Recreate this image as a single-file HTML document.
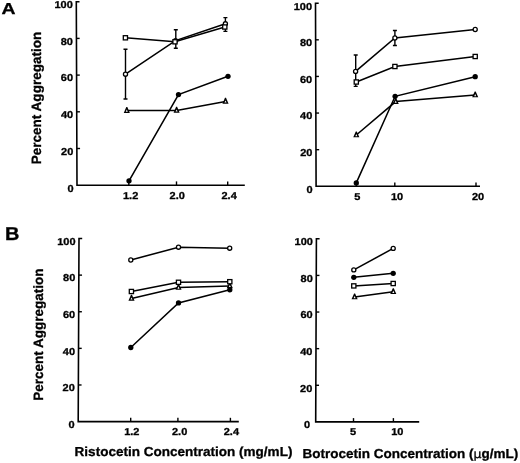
<!DOCTYPE html>
<html><head><meta charset="utf-8"><title>Figure</title>
<style>
html,body{margin:0;padding:0;background:#fff;}
svg{display:block;}
svg text{font-family:"Liberation Sans",sans-serif;font-weight:bold;fill:#000;stroke:#000;stroke-width:0.3px;text-rendering:geometricPrecision;}
</style></head><body>
<svg width="520" height="463" viewBox="0 0 520 463">
<rect width="520" height="463" fill="#fff"/>
<path d="M79.5 1.7H76.3L77 185.2H244.8" fill="none" stroke="#000" stroke-width="1.6" stroke-linejoin="miter"/>
<text transform="translate(73.5,191.5) scale(1.1,1)" font-size="10" text-anchor="end">0</text>
<path d="M76.86 148.5h3.2" stroke="#000" stroke-width="1.4"/>
<text transform="translate(73.36,154.8) scale(1.1,1)" font-size="10" text-anchor="end">20</text>
<path d="M76.72 111.8h3.2" stroke="#000" stroke-width="1.4"/>
<text transform="translate(73.22,118.1) scale(1.1,1)" font-size="10" text-anchor="end">40</text>
<path d="M76.58 75.1h3.2" stroke="#000" stroke-width="1.4"/>
<text transform="translate(73.08,81.4) scale(1.1,1)" font-size="10" text-anchor="end">60</text>
<path d="M76.44 38.4h3.2" stroke="#000" stroke-width="1.4"/>
<text transform="translate(72.94,44.7) scale(1.1,1)" font-size="10" text-anchor="end">80</text>
<text transform="translate(72.8,8) scale(1.1,1)" font-size="10" text-anchor="end">100</text>
<path d="M128.8 185.2v-3.8" stroke="#000" stroke-width="1.4"/>
<text transform="translate(130.6,199) scale(1.1,1)" font-size="10" text-anchor="middle">1.2</text>
<path d="M176.5 185.2v-3.8" stroke="#000" stroke-width="1.4"/>
<text transform="translate(177.2,199) scale(1.1,1)" font-size="10" text-anchor="middle">2.0</text>
<path d="M227.7 185.2v-3.8" stroke="#000" stroke-width="1.4"/>
<text transform="translate(229.1,199) scale(1.1,1)" font-size="10" text-anchor="middle">2.4</text>
<path d="M125.5 49.3V99M123.5 49.3h4.0M123.5 99h4.0" fill="none" stroke="#000" stroke-width="1.4"/>
<path d="M175.8 29.8V48.2M173.8 29.8h4.0M173.8 48.2h4.0" fill="none" stroke="#000" stroke-width="1.4"/>
<path d="M225.4 17.6V31.4M223.4 17.6h4.0M223.4 31.4h4.0" fill="none" stroke="#000" stroke-width="1.4"/>
<polyline points="125.4,37.8 175,41.8 224.8,27" fill="none" stroke="#000" stroke-width="1.55"/>
<polyline points="125.5,74.2 175.5,40.6 225.4,23.8" fill="none" stroke="#000" stroke-width="1.55"/>
<polyline points="126.8,110.6 176.6,110.4 225.5,101.4" fill="none" stroke="#000" stroke-width="1.55"/>
<polyline points="129,180.8 178.5,94.6 228,76.3" fill="none" stroke="#000" stroke-width="1.55"/>
<polygon points="126.3,107 127.3,107 129.85,112.9 123.75,112.9" fill="#000"/>
<polygon points="126.8,109.6 125.8,111.75 127.8,111.75" fill="#fff"/>
<polygon points="176.1,106.8 177.1,106.8 179.65,112.7 173.55,112.7" fill="#000"/>
<polygon points="176.6,109.4 175.6,111.55 177.6,111.55" fill="#fff"/>
<polygon points="225,97.8 226,97.8 228.55,103.7 222.45,103.7" fill="#000"/>
<polygon points="225.5,100.4 224.5,102.55 226.5,102.55" fill="#fff"/>
<circle cx="129" cy="180.8" r="2.65" fill="#000"/>
<circle cx="178.5" cy="94.6" r="2.65" fill="#000"/>
<circle cx="228" cy="76.3" r="2.65" fill="#000"/>
<circle cx="125.5" cy="74.2" r="2.05" fill="#fff" stroke="#000" stroke-width="1.3"/>
<circle cx="175.5" cy="40.6" r="2.05" fill="#fff" stroke="#000" stroke-width="1.3"/>
<circle cx="225.4" cy="23.8" r="2.05" fill="#fff" stroke="#000" stroke-width="1.3"/>
<rect x="123.3" y="35.7" width="4.2" height="4.2" fill="#fff" stroke="#000" stroke-width="1.3"/>
<rect x="172.9" y="39.7" width="4.2" height="4.2" fill="#fff" stroke="#000" stroke-width="1.3"/>
<rect x="222.7" y="24.9" width="4.2" height="4.2" fill="#fff" stroke="#000" stroke-width="1.3"/>
<path d="M318.7 3.2H315.5L316.1 186.3H480" fill="none" stroke="#000" stroke-width="1.6" stroke-linejoin="miter"/>
<text transform="translate(312.6,192.6) scale(1.1,1)" font-size="10" text-anchor="end">0</text>
<path d="M315.98 149.68h3.2" stroke="#000" stroke-width="1.4"/>
<text transform="translate(312.48,155.98) scale(1.1,1)" font-size="10" text-anchor="end">20</text>
<path d="M315.86 113.06h3.2" stroke="#000" stroke-width="1.4"/>
<text transform="translate(312.36,119.36) scale(1.1,1)" font-size="10" text-anchor="end">40</text>
<path d="M315.74 76.44h3.2" stroke="#000" stroke-width="1.4"/>
<text transform="translate(312.24,82.74) scale(1.1,1)" font-size="10" text-anchor="end">60</text>
<path d="M315.62 39.82h3.2" stroke="#000" stroke-width="1.4"/>
<text transform="translate(312.12,46.12) scale(1.1,1)" font-size="10" text-anchor="end">80</text>
<text transform="translate(312,9.5) scale(1.1,1)" font-size="10" text-anchor="end">100</text>
<path d="M356.3 186.3v-3.8" stroke="#000" stroke-width="1.4"/>
<text transform="translate(357.2,200.2) scale(1.1,1)" font-size="10" text-anchor="middle">5</text>
<path d="M394.8 186.3v-3.8" stroke="#000" stroke-width="1.4"/>
<text transform="translate(397.1,200.2) scale(1.1,1)" font-size="10" text-anchor="middle">10</text>
<path d="M476 186.3v-3.8" stroke="#000" stroke-width="1.4"/>
<text transform="translate(478,200.2) scale(1.1,1)" font-size="10" text-anchor="middle">20</text>
<path d="M355.7 55V86.4M353.7 55h4.0M353.7 86.4h4.0" fill="none" stroke="#000" stroke-width="1.4"/>
<path d="M394.9 30.5V45.5M392.9 30.5h4.0M392.9 45.5h4.0" fill="none" stroke="#000" stroke-width="1.4"/>
<polyline points="355.6,71.4 394.9,38 475.2,29.5" fill="none" stroke="#000" stroke-width="1.55"/>
<polyline points="356.3,82 394.9,66.5 475.2,56.5" fill="none" stroke="#000" stroke-width="1.55"/>
<polyline points="356.3,182.9 395.1,96.3 475.2,76.7" fill="none" stroke="#000" stroke-width="1.55"/>
<polyline points="356.3,135 395.7,101.6 475.2,95" fill="none" stroke="#000" stroke-width="1.55"/>
<polygon points="355.8,131.4 356.8,131.4 359.35,137.3 353.25,137.3" fill="#000"/>
<polygon points="356.3,134 355.3,136.15 357.3,136.15" fill="#fff"/>
<polygon points="395.2,98 396.2,98 398.75,103.9 392.65,103.9" fill="#000"/>
<polygon points="395.7,100.6 394.7,102.75 396.7,102.75" fill="#fff"/>
<polygon points="474.7,91.4 475.7,91.4 478.25,97.3 472.15,97.3" fill="#000"/>
<polygon points="475.2,94 474.2,96.15 476.2,96.15" fill="#fff"/>
<circle cx="356.3" cy="182.9" r="2.65" fill="#000"/>
<circle cx="395.1" cy="96.3" r="2.65" fill="#000"/>
<circle cx="475.2" cy="76.7" r="2.65" fill="#000"/>
<rect x="354.2" y="79.9" width="4.2" height="4.2" fill="#fff" stroke="#000" stroke-width="1.3"/>
<rect x="392.8" y="64.4" width="4.2" height="4.2" fill="#fff" stroke="#000" stroke-width="1.3"/>
<rect x="473.1" y="54.4" width="4.2" height="4.2" fill="#fff" stroke="#000" stroke-width="1.3"/>
<circle cx="355.6" cy="71.4" r="2.05" fill="#fff" stroke="#000" stroke-width="1.3"/>
<circle cx="394.9" cy="38" r="2.05" fill="#fff" stroke="#000" stroke-width="1.3"/>
<circle cx="475.2" cy="29.5" r="2.05" fill="#fff" stroke="#000" stroke-width="1.3"/>
<path d="M82.2 238.5H79L78.2 421.6H238.8" fill="none" stroke="#000" stroke-width="1.6" stroke-linejoin="miter"/>
<text transform="translate(74.7,427.9) scale(1.1,1)" font-size="10" text-anchor="end">0</text>
<path d="M78.36 384.98h3.2" stroke="#000" stroke-width="1.4"/>
<text transform="translate(74.86,391.28) scale(1.1,1)" font-size="10" text-anchor="end">20</text>
<path d="M78.52 348.36h3.2" stroke="#000" stroke-width="1.4"/>
<text transform="translate(75.02,354.66) scale(1.1,1)" font-size="10" text-anchor="end">40</text>
<path d="M78.68 311.74h3.2" stroke="#000" stroke-width="1.4"/>
<text transform="translate(75.18,318.04) scale(1.1,1)" font-size="10" text-anchor="end">60</text>
<path d="M78.84 275.12h3.2" stroke="#000" stroke-width="1.4"/>
<text transform="translate(75.34,281.42) scale(1.1,1)" font-size="10" text-anchor="end">80</text>
<text transform="translate(75.5,244.8) scale(1.1,1)" font-size="10" text-anchor="end">100</text>
<path d="M130.7 421.6v-3.8" stroke="#000" stroke-width="1.4"/>
<text transform="translate(131.8,435.4) scale(1.1,1)" font-size="10" text-anchor="middle">1.2</text>
<path d="M177.9 421.6v-3.8" stroke="#000" stroke-width="1.4"/>
<text transform="translate(179.6,435.4) scale(1.1,1)" font-size="10" text-anchor="middle">2.0</text>
<path d="M230.4 421.6v-3.8" stroke="#000" stroke-width="1.4"/>
<text transform="translate(231.4,435.4) scale(1.1,1)" font-size="10" text-anchor="middle">2.4</text>
<polyline points="130.8,260 178.5,247.2 229.7,248.2" fill="none" stroke="#000" stroke-width="1.55"/>
<polyline points="131.4,291.5 178.5,282.3 229.8,281.7" fill="none" stroke="#000" stroke-width="1.55"/>
<polyline points="131.5,298.4 178.5,287.5 229.8,285.9" fill="none" stroke="#000" stroke-width="1.55"/>
<polyline points="130.8,347.5 178.5,302.9 229.8,289.8" fill="none" stroke="#000" stroke-width="1.55"/>
<circle cx="130.8" cy="347.5" r="2.65" fill="#000"/>
<circle cx="178.5" cy="302.9" r="2.65" fill="#000"/>
<circle cx="229.8" cy="289.8" r="2.65" fill="#000"/>
<polygon points="131,294.8 132,294.8 134.55,300.7 128.45,300.7" fill="#000"/>
<polygon points="131.5,297.4 130.5,299.55 132.5,299.55" fill="#fff"/>
<polygon points="178,283.9 179,283.9 181.55,289.8 175.45,289.8" fill="#000"/>
<polygon points="178.5,286.5 177.5,288.65 179.5,288.65" fill="#fff"/>
<polygon points="229.3,282.3 230.3,282.3 232.85,288.2 226.75,288.2" fill="#000"/>
<polygon points="229.8,284.9 228.8,287.05 230.8,287.05" fill="#fff"/>
<rect x="129.3" y="289.4" width="4.2" height="4.2" fill="#fff" stroke="#000" stroke-width="1.3"/>
<rect x="176.4" y="280.2" width="4.2" height="4.2" fill="#fff" stroke="#000" stroke-width="1.3"/>
<rect x="227.7" y="279.6" width="4.2" height="4.2" fill="#fff" stroke="#000" stroke-width="1.3"/>
<circle cx="130.8" cy="260" r="2.05" fill="#fff" stroke="#000" stroke-width="1.3"/>
<circle cx="178.5" cy="247.2" r="2.05" fill="#fff" stroke="#000" stroke-width="1.3"/>
<circle cx="229.7" cy="248.2" r="2.05" fill="#fff" stroke="#000" stroke-width="1.3"/>
<path d="M319.6 238.8H316.4L315.7 421.9H419.2" fill="none" stroke="#000" stroke-width="1.6" stroke-linejoin="miter"/>
<text transform="translate(310,428.2) scale(1.1,1)" font-size="10" text-anchor="end">0</text>
<path d="M315.84 385.28h3.2" stroke="#000" stroke-width="1.4"/>
<text transform="translate(312.34,391.58) scale(1.1,1)" font-size="10" text-anchor="end">20</text>
<path d="M315.98 348.66h3.2" stroke="#000" stroke-width="1.4"/>
<text transform="translate(312.48,354.96) scale(1.1,1)" font-size="10" text-anchor="end">40</text>
<path d="M316.12 312.04h3.2" stroke="#000" stroke-width="1.4"/>
<text transform="translate(312.62,318.34) scale(1.1,1)" font-size="10" text-anchor="end">60</text>
<path d="M316.26 275.42h3.2" stroke="#000" stroke-width="1.4"/>
<text transform="translate(312.76,281.72) scale(1.1,1)" font-size="10" text-anchor="end">80</text>
<text transform="translate(312.9,245.1) scale(1.1,1)" font-size="10" text-anchor="end">100</text>
<path d="M353.5 421.9v-3.8" stroke="#000" stroke-width="1.4"/>
<text transform="translate(353.1,434.5) scale(1.1,1)" font-size="10" text-anchor="middle">5</text>
<path d="M393.4 421.9v-3.8" stroke="#000" stroke-width="1.4"/>
<text transform="translate(397.3,434.5) scale(1.1,1)" font-size="10" text-anchor="middle">10</text>
<polyline points="353.8,269.9 393.2,248.4" fill="none" stroke="#000" stroke-width="1.55"/>
<polyline points="353.8,277.3 393.2,273.3" fill="none" stroke="#000" stroke-width="1.55"/>
<polyline points="353.8,285.9 393.2,283.5" fill="none" stroke="#000" stroke-width="1.55"/>
<polyline points="354.6,297 393.3,291.8" fill="none" stroke="#000" stroke-width="1.55"/>
<circle cx="353.8" cy="269.9" r="2.05" fill="#fff" stroke="#000" stroke-width="1.3"/>
<circle cx="393.2" cy="248.4" r="2.05" fill="#fff" stroke="#000" stroke-width="1.3"/>
<circle cx="353.8" cy="277.3" r="2.65" fill="#000"/>
<circle cx="393.2" cy="273.3" r="2.65" fill="#000"/>
<rect x="351.7" y="283.8" width="4.2" height="4.2" fill="#fff" stroke="#000" stroke-width="1.3"/>
<rect x="391.1" y="281.4" width="4.2" height="4.2" fill="#fff" stroke="#000" stroke-width="1.3"/>
<polygon points="354.1,293.4 355.1,293.4 357.65,299.3 351.55,299.3" fill="#000"/>
<polygon points="354.6,296 353.6,298.15 355.6,298.15" fill="#fff"/>
<polygon points="392.8,288.2 393.8,288.2 396.35,294.1 390.25,294.1" fill="#000"/>
<polygon points="393.3,290.8 392.3,292.95 394.3,292.95" fill="#fff"/>
<text transform="translate(1.5,14.3) scale(1.22,1)" font-size="15.9" text-anchor="start" stroke-width="0.7">A</text>
<text transform="translate(5,239.9) scale(1.07,1)" font-size="18.7" text-anchor="start" stroke-width="0.6">B</text>
<text transform="translate(41.3,164.3) rotate(-90)" font-size="13.5" text-anchor="start" textLength="132.6" lengthAdjust="spacingAndGlyphs">Percent Aggregation</text>
<text transform="translate(43.4,400.8) rotate(-90)" font-size="13.5" text-anchor="start" textLength="132.2" lengthAdjust="spacingAndGlyphs">Percent Aggregation</text>
<text x="74.6" y="455.8" font-size="13" text-anchor="start" textLength="217.8" lengthAdjust="spacingAndGlyphs">Ristocetin Concentration (mg/mL)</text>
<text x="302.6" y="458.1" font-size="13" text-anchor="start" textLength="215.7" lengthAdjust="spacingAndGlyphs">Botrocetin Concentration (<tspan font-weight="normal" font-family="'DejaVu Sans',sans-serif" font-size="12">μ</tspan>g/mL)</text>
</svg>
</body></html>
